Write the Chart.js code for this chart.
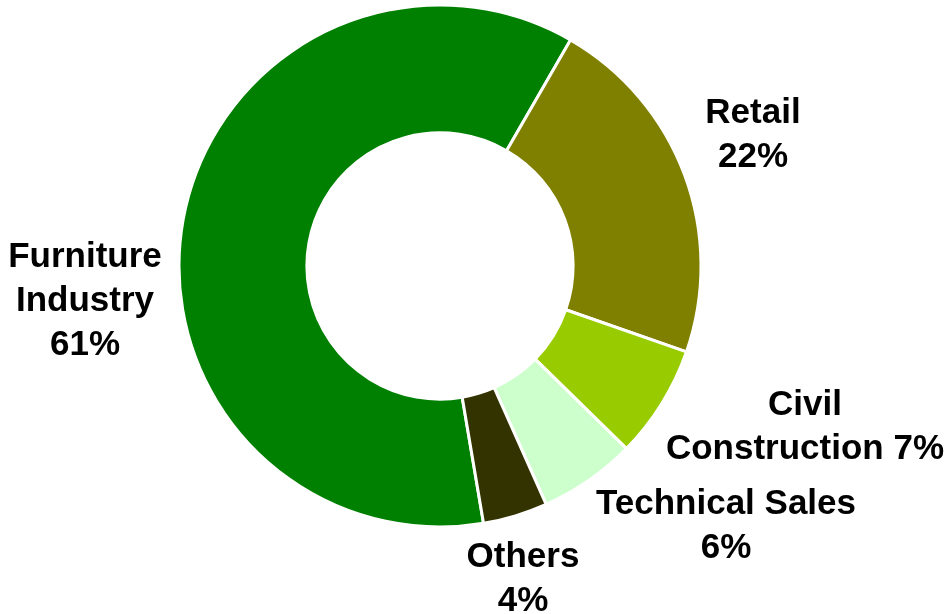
<!DOCTYPE html>
<html>
<head>
<meta charset="utf-8">
<script src="https://cdn.jsdelivr.net/npm/chart.js@4/dist/chart.umd.min.js"></script>
<style>
  html, body { margin: 0; padding: 0; background: #fff; }
  #wrap { width: 944px; height: 614px; position: relative; }
</style>
</head>
<body>
<div id="wrap"><canvas id="chart"></canvas></div>
<script>
// segments, clockwise starting at Furniture Industry
const labels = [['Furniture', 'Industry'], ['Retail'], ['Civil', 'Construction'], ['Technical Sales'], ['Others']]
const shares = [61, 22, 7, 6, 4]
const colors = ['#008000', '#808000', '#99CC00', '#CCFFCC', '#333300']

// where each text block sits, relative to the doughnut centre
const labelOffsets = [[-355, 35], [313, -131], [365, 161], [286, 260], [83, 313]]

const outsideLabels = {
  id: 'outsideLabels',
  afterDraw(chart) {
    const ctx = chart.ctx
    const arcs = chart.getDatasetMeta(0).data
    ctx.save()
    ctx.font = 'bold 35px "Liberation Sans", Arial, sans-serif'
    ctx.fillStyle = '#000'
    ctx.textAlign = 'center'
    ctx.textBaseline = 'middle'
    const lineH = 44
    arcs.forEach((arc, i) => {
      const lines = labels[i].slice()
      const pct = shares[i] + '%'
      // civil construction keeps the percentage on the same line
      if (i === 2) lines[lines.length - 1] += ' ' + pct
      else lines.push(pct)
      const cx = arc.x + labelOffsets[i][0]
      const cy = arc.y + labelOffsets[i][1]
      const top = cy - (lines.length - 1) * lineH / 2
      lines.forEach((t, j) => ctx.fillText(t, cx, top + j * lineH))
    })
    ctx.restore()
  },
}

new Chart(document.getElementById('chart'), {
  type: 'doughnut',
  data: {
    labels: labels.map((l) => l.join(' ')),
    datasets: [
      {
        data: shares,
        backgroundColor: colors,
        borderColor: '#ffffff',
        borderWidth: 3,
      },
    ],
  },
  options: {
    responsive: true,
    maintainAspectRatio: false,
    animation: false,
    rotation: 170.4,
    cutout: '51%',
    layout: {
      padding: { left: 0, right: 64, top: 3.5, bottom: 85.5 },
    },
    plugins: {
      legend: { display: false },
      tooltip: { enabled: false },
    },
  },
  plugins: [outsideLabels],
})
</script>
</body>
</html>
